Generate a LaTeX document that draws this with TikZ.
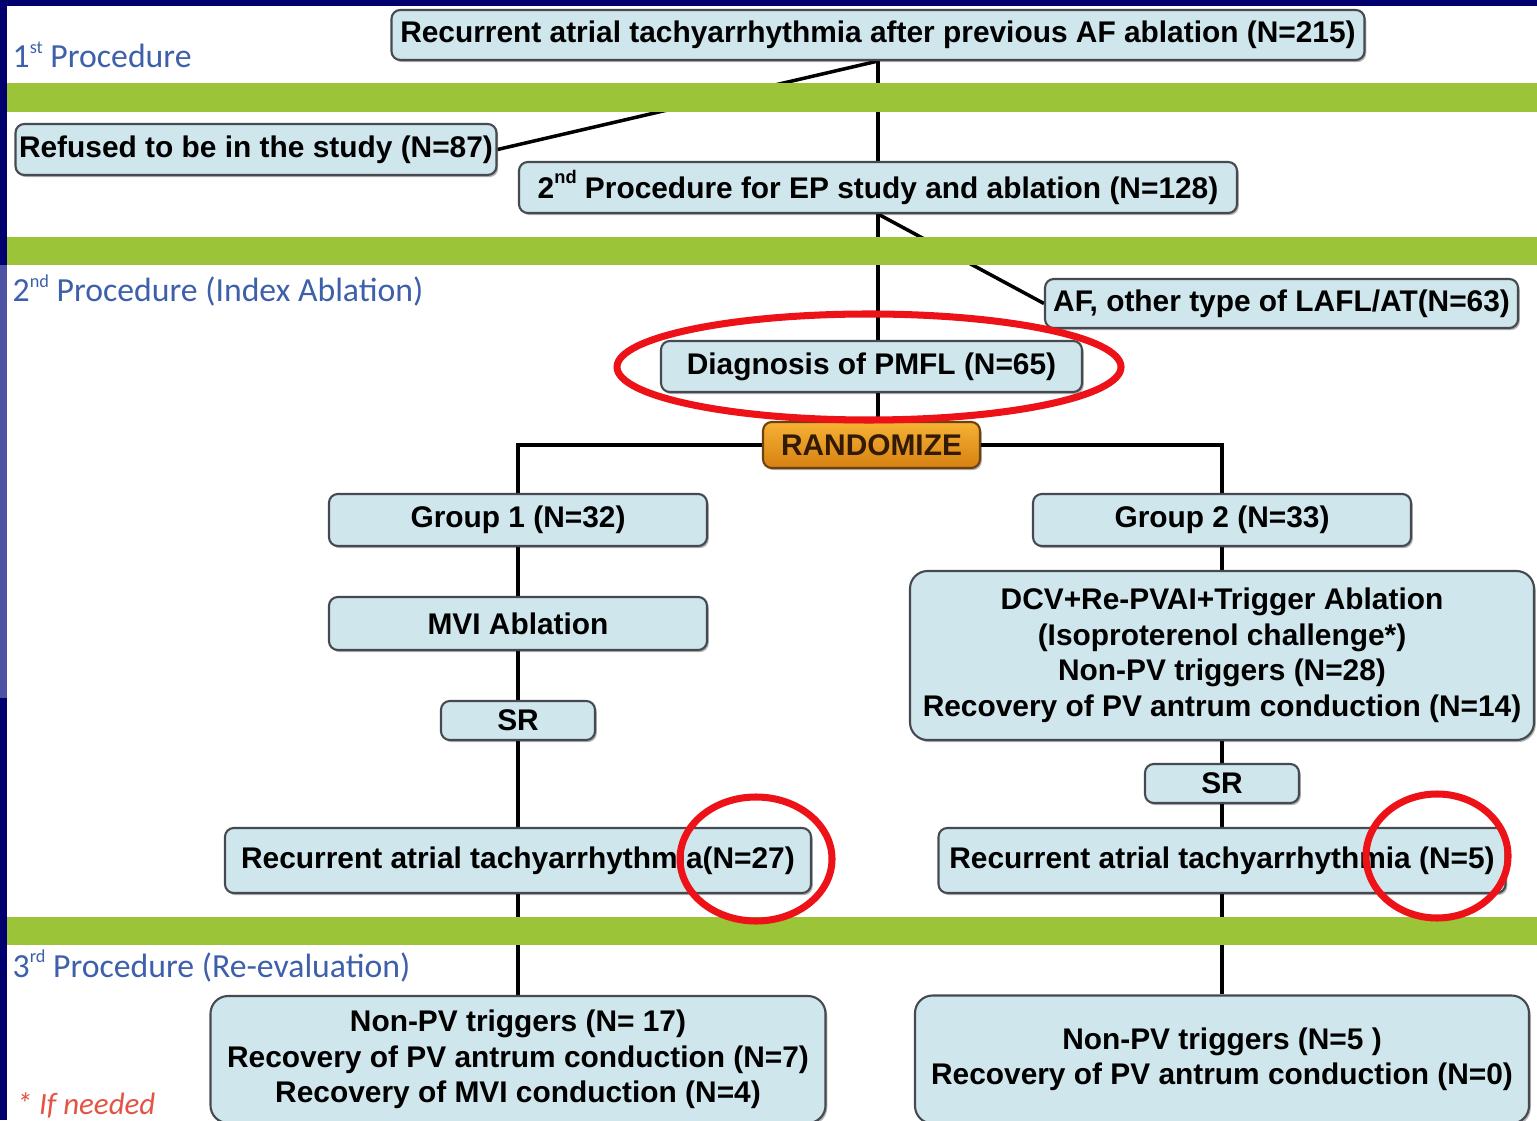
\documentclass[tikz,border=0pt]{standalone}
\usepackage{fontspec}
\setmainfont{Liberation Sans}
\newfontfamily\labelfont{Carlito}
\usepackage{tikz}
\usetikzlibrary{shadows}

\definecolor{navy}{RGB}{0,0,110}
\definecolor{stripblue}{RGB}{78,82,165}
\definecolor{boxfill}{RGB}{206,230,236}
\definecolor{boxline}{RGB}{70,74,80}
\definecolor{bandgreen}{RGB}{156,196,56}
\definecolor{phaseblue}{RGB}{62,96,170}
\definecolor{notered}{RGB}{228,84,70}
\definecolor{ringred}{RGB}{236,18,24}
\definecolor{randtop}{RGB}{246,178,52}
\definecolor{randbot}{RGB}{214,128,18}
\definecolor{randline}{RGB}{110,66,14}
\definecolor{randtext}{RGB}{50,26,4}

\newcommand\ordsup[1]{\raisebox{0.9ex}{\fontsize{5.2}{6}\selectfont #1}}

\pgfdeclarelayer{backdrop}
\pgfdeclarelayer{lines}
\pgfdeclarelayer{bands}
\pgfsetlayers{backdrop,lines,bands,main}

\begin{document}
\begin{tikzpicture}[
 box/.style={draw=boxline,line width=0.6pt,rounded corners=2.5pt,fill=boxfill,align=center,inner sep=1pt,
  font=\fontsize{8.5}{10.1}\selectfont\bfseries,
  drop shadow={shadow xshift=0.5pt,shadow yshift=-0.6pt,fill=black,opacity=0.3}},
 bigbox/.style={box,rounded corners=5pt},
 randbox/.style={box,draw=randline,top color=randtop,bottom color=randbot,text=randtext},
 phase/.style={font=\labelfont\fontsize{9.6}{11}\selectfont,text=phaseblue,anchor=base west,inner sep=0pt},
 band/.style={fill=bandgreen},
 link/.style={line width=1pt},
 ring/.style={draw=ringred,line width=2pt}]
\useasboundingbox (0,0) rectangle (15.37,11.20);
\clip (0,0) rectangle (15.37,11.20);

\begin{pgfonlayer}{backdrop}
\fill[navy] (0,0) rectangle (15.37,11.20);
\fill[white] (0.07,0) rectangle (15.37,11.14);
\fill[stripblue] (0,4.22) rectangle (0.07,8.55);
\end{pgfonlayer}

% phase labels
\node[phase] (ph1) at (0.12,10.52) {1\ordsup{st} Procedure};
\node[phase] (ph2) at (0.12,8.18) {2\ordsup{nd} Procedure (Index Ablation)};
\node[phase] (ph3) at (0.12,1.43) {3\ordsup{rd} Procedure (Re-evaluation)};
\node[phase,text=notered,font=\labelfont\itshape\fontsize{8.8}{10}\selectfont] (note) at (0.16,0.06) {* If needed};

% boxes
\node[box,minimum width=9.73cm,minimum height=0.50cm] (recur) at (8.78,10.85) {Recurrent atrial tachyarrhythmia after previous AF ablation (N=215)};
\node[box,minimum width=4.76cm,minimum height=0.51cm] (refused) at (2.56,9.705) {Refused to be in the study (N=87)};
\node[box,minimum width=7.18cm,minimum height=0.51cm] (second) at (8.78,9.325) {2\ordsup{nd} Procedure for EP study and ablation (N=128)};
\node[box,minimum width=4.73cm,minimum height=0.49cm] (afother) at (12.815,8.165) {AF, other type of LAFL/AT(N=63)};
\node[box,minimum width=4.21cm,minimum height=0.51cm] (diag) at (8.715,7.535) {Diagnosis of PMFL (N=65)};
\node[randbox,minimum width=2.17cm,minimum height=0.46cm] (rand) at (8.715,6.75) {RANDOMIZE};
\node[box,minimum width=3.78cm,minimum height=0.52cm] (grp1) at (5.18,6.00) {Group 1 (N=32)};
\node[box,minimum width=3.78cm,minimum height=0.52cm] (grp2) at (12.22,6.00) {Group 2 (N=33)};
\node[box,minimum width=3.78cm,minimum height=0.53cm] (mvi) at (5.18,4.965) {MVI Ablation};
\node[bigbox,minimum width=6.24cm,minimum height=1.69cm] (dcv) at (12.22,4.645) {DCV+Re-PVAI+Trigger Ablation\\(Isoproterenol challenge*)\\Non-PV triggers (N=28)\\Recovery of PV antrum conduction (N=14)};
\node[box,minimum width=1.54cm,minimum height=0.39cm] (sr1) at (5.18,3.995) {SR};
\node[box,minimum width=1.54cm,minimum height=0.39cm] (sr2) at (12.22,3.365) {SR};
\node[box,minimum width=5.86cm,minimum height=0.65cm] (rec1) at (5.18,2.595) {Recurrent atrial tachyarrhythmia(N=27)};
\node[box,minimum width=5.67cm,minimum height=0.65cm] (rec2) at (12.22,2.595) {Recurrent atrial tachyarrhythmia (N=5)};
\node[bigbox,minimum width=6.15cm,minimum height=1.27cm] (out1) at (5.18,0.605) {Non-PV triggers (N= 17)\\Recovery of PV antrum conduction (N=7)\\Recovery of MVI conduction (N=4)};
\node[bigbox,minimum width=6.14cm,minimum height=1.28cm] (out2) at (12.22,0.605) {Non-PV triggers (N=5 )\\Recovery of PV antrum conduction (N=0)};

\begin{pgfonlayer}{lines}
\draw[link] (recur.south) -- (second.north);
\draw[link] (recur.south) -- (refused.east);
\draw[link] (second.south) -- (second.south |- diag.north);
\draw[link] (second.south) -- (afother.west);
\draw[link] (diag.south -| second.south) -- (rand.north -| second.south);
\draw[link] (rand.west) -| (grp1.north);
\draw[link] (rand.east) -| (grp2.north);
\draw[link] (grp1.south) -- (mvi.north);
\draw[link] (mvi.south) -- (sr1.north);
\draw[link] (sr1.south) -- (rec1.north);
\draw[link] (rec1.south) -- (out1.north);
\draw[link] (grp2.south) -- (dcv.north);
\draw[link] (dcv.south) -- (sr2.north);
\draw[link] (sr2.south) -- (rec2.north);
\draw[link] (rec2.south) -- (out2.north);
\end{pgfonlayer}

\begin{pgfonlayer}{bands}
\fill[band] (0.07,10.08) rectangle (15.37,10.37);
\fill[band] (0.07,8.55) rectangle (15.37,8.83);
\fill[band] (0.07,1.75) rectangle (15.37,2.03);
\end{pgfonlayer}

\draw[ring] (8.69,7.53) ellipse [x radius=2.52,y radius=0.53];
\draw[ring] (7.56,2.61) ellipse [x radius=0.76,y radius=0.62];
\draw[ring] (14.37,2.64) ellipse [x radius=0.71,y radius=0.62];
\end{tikzpicture}
\end{document}
